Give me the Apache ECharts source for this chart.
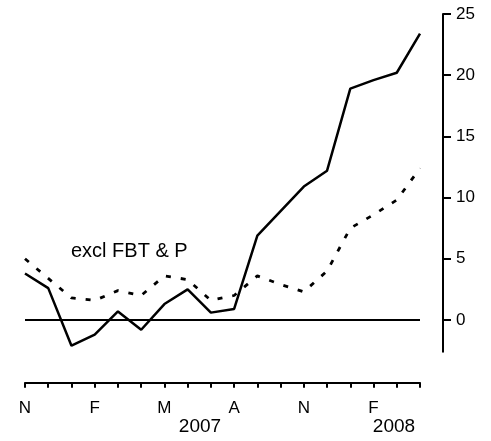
<!DOCTYPE html>
<html>
<head>
<meta charset="utf-8">
<script src="https://cdn.jsdelivr.net/npm/echarts@6/dist/echarts.min.js"></script>
<style>html,body{margin:0;padding:0;background:#fff}#c{width:491px;height:441px}</style>
</head>
<body>
<div id="c"></div>
<script>
// Monthly categories, Nov 2006 .. Apr 2008
var months = ['N','D','J','F','M','A','M','J','J','A','S','O','N','D','J','F','M','A'];
var totalSeries = [3.8, 2.6, -2.1, -1.2, 0.7, -0.8, 1.3, 2.5, 0.6, 0.9, 6.9, 8.9, 10.9, 12.2, 18.9, 19.6, 20.2, 23.4];
var exclSeries  = [5.0, 3.4, 1.8, 1.6, 2.4, 2.0, 3.6, 3.3, 1.6, 2.0, 3.6, 2.9, 2.3, 4.0, 7.5, 8.6, 9.8, 12.4];
var yTicks = [0, 5, 10, 15, 20, 25];
var yearLabels = ['2007', '2008'];
var seriesLabel = 'excl FBT & P';

var FONT = 'Liberation Sans, Arial, Helvetica, sans-serif';
var chart = echarts.init(document.getElementById('c'), null, {renderer: 'canvas'});
chart.setOption({
  backgroundColor: '#fff',
  animation: false,
  grid: {left: 25, right: 71, top: 14, bottom: 89.2},
  xAxis: {
    type: 'category',
    data: months,
    boundaryGap: false,
    position: 'bottom',
    offset: 31,
    axisLine: {show: true, onZero: false, lineStyle: {color: '#000', width: 2}},
    axisTick: {show: true, interval: 0, length: 5, inside: false, lineStyle: {color: '#000', width: 2}},
    axisLabel: {interval: 2, color: '#000', fontSize: 17, fontFamily: FONT, margin: 17},
    splitLine: {show: false}
  },
  yAxis: {
    type: 'value',
    position: 'right',
    offset: 23,
    min: -2.6,
    max: 25,
    axisLine: {show: true, lineStyle: {color: '#000', width: 2}},
    axisTick: {show: true, length: 8, customValues: yTicks, lineStyle: {color: '#000', width: 2}},
    axisLabel: {color: '#000', fontSize: 17, fontFamily: FONT, margin: 13, customValues: yTicks},
    splitLine: {show: false}
  },
  series: [
    {
      type: 'line',
      data: totalSeries,
      symbol: 'none',
      lineStyle: {color: '#000', width: 2.5},
      markLine: {
        silent: true,
        symbol: 'none',
        label: {show: false},
        lineStyle: {color: '#000', width: 2, type: 'solid'},
        data: [{yAxis: 0}]
      }
    },
    {
      type: 'line',
      data: exclSeries,
      symbol: 'none',
      lineStyle: {color: '#000', width: 2.8, type: [5, 10]}
    }
  ],
  graphic: [
    {type: 'text', left: 71, top: 241, style: {text: seriesLabel, fill: '#000', font: '20px ' + FONT}},
    {type: 'text', x: 200, y: 427, style: {text: yearLabels[0], fill: '#000', font: '19px ' + FONT, textAlign: 'center', textVerticalAlign: 'middle'}},
    {type: 'text', x: 394, y: 427, style: {text: yearLabels[1], fill: '#000', font: '19px ' + FONT, textAlign: 'center', textVerticalAlign: 'middle'}}
  ]
});
</script>
</body>
</html>
